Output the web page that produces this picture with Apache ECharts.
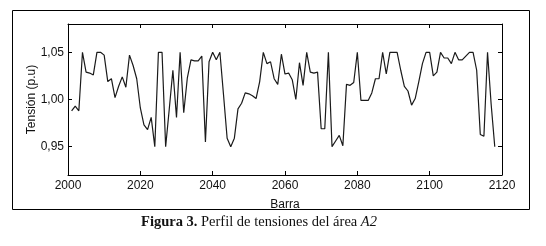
<!DOCTYPE html>
<html>
<head>
<meta charset="utf-8">
<script src="https://cdn.jsdelivr.net/npm/echarts@6/dist/echarts.min.js"></script>
<style>
  html, body { margin: 0; padding: 0; background: #fff; }
  #chart { width: 546px; height: 246px; }
</style>
</head>
<body>
<div id="chart"></div>
<script>
// bar numbers start at 2001, one value per bar
var firstBar = 2001;
var tension = [
  0.988, 0.993, 0.988, 1.050, 1.029, 1.028, 1.026, 1.050, 1.050, 1.047,
  1.019, 1.022, 1.002, 1.014, 1.024, 1.013, 1.047, 1.036, 1.022, 0.991,
  0.973, 0.968, 0.981, 0.950, 1.050, 1.050, 0.950, 0.990, 1.031, 0.981,
  1.050, 0.986, 1.023, 1.042, 1.041, 1.041, 1.046, 0.955, 1.040, 1.050,
  1.042, 1.050, 1.005, 0.959, 0.950, 0.959, 0.990, 0.996, 1.007, 1.006,
  1.004, 1.001, 1.019, 1.050, 1.038, 1.040, 1.022, 1.016, 1.048, 1.027,
  1.028, 1.021, 1.000, 1.039, 1.015, 1.050, 1.029, 1.028, 1.029, 0.969,
  0.969, 1.050, 0.950, 0.956, 0.962, 0.951, 1.016, 1.015, 1.018, 1.050,
  0.999, 0.999, 0.999, 1.007, 1.022, 1.022, 1.050, 1.027, 1.050, 1.050,
  1.050, 1.031, 1.014, 1.009, 0.994, 1.001, 1.019, 1.038, 1.050, 1.050,
  1.025, 1.029, 1.050, 1.044, 1.044, 1.038, 1.050, 1.042, 1.042, 1.046,
  1.050, 1.050, 1.031, 0.963, 0.961, 1.050, 0.995, 0.950
];
var yTicks = [0.95, 1.00, 1.05];

var points = tension.map(function (v, i) { return [firstBar + i, v]; });

var myChart = echarts.init(document.getElementById('chart'));

var font = 'Liberation Sans, Arial, sans-serif';
var xBase = {
    type: 'value',
    min: 2000,
    max: 2120,
    interval: 20,
    axisLine: { lineStyle: { color: '#000', width: 1 } },
    axisTick: { inside: true, length: 4, lineStyle: { color: '#000' } },
    splitLine: { show: false }
};
var yBase = {
    type: 'value',
    min: 0.92,
    max: 1.08,
    axisLine: { show: true, lineStyle: { color: '#000', width: 1 } },
    axisTick: { inside: true, length: 4, customValues: yTicks, lineStyle: { color: '#000' } },
    splitLine: { show: false }
};

option = {
    animation: false,
    grid: { left: 68, top: 24, right: 44, bottom: 71, containLabel: false },
    graphic: [
        {
            type: 'rect',
            shape: { x: 12.5, y: 10.5, width: 517, height: 199 },
            style: { fill: 'none', stroke: '#000', lineWidth: 1 }
        },
        {
            type: 'text',
            x: 259,
            y: 222,
            style: {
                text: '{b|Figura 3.} Perfil de tensiones del área {i|A2}',
                textAlign: 'center',
                textVerticalAlign: 'middle',
                font: '14.5px "Liberation Serif", serif',
                fill: '#111',
                rich: {
                    b: { fontWeight: 'bold', fontFamily: 'Liberation Serif', fontSize: 14.5 },
                    i: { fontStyle: 'italic', fontFamily: 'Liberation Serif', fontSize: 14.5 }
                }
            }
        }
    ],
    xAxis: [
        Object.assign({}, xBase, {
            position: 'bottom',
            name: 'Barra',
            nameLocation: 'middle',
            nameGap: 24,
            nameMoveOverlap: false,
            nameTextStyle: { color: '#111', fontSize: 12, fontFamily: font },
            axisLabel: {
                color: '#111', fontSize: 12, fontFamily: font, margin: 5,
                formatter: function (v) { return String(v); }
            }
        }),
        Object.assign({}, xBase, {
            position: 'top',
            axisLabel: { show: false }
        })
    ],
    yAxis: [
        Object.assign({}, yBase, {
            position: 'left',
            name: 'Tensión (p.u)',
            nameLocation: 'middle',
            nameGap: 30,
            nameMoveOverlap: false,
            nameTextStyle: { color: '#111', fontSize: 12, fontFamily: font },
            axisLabel: {
                color: '#111', fontSize: 12, fontFamily: font, margin: 4,
                customValues: yTicks,
                formatter: function (v) { return v.toFixed(2).replace('.', ','); }
            }
        }),
        Object.assign({}, yBase, {
            position: 'right',
            axisLabel: { show: false }
        })
    ],
    series: [
        {
            type: 'line',
            data: points,
            showSymbol: false,
            lineStyle: { color: '#1a1a1a', width: 1.2 }
        }
    ]
};
myChart.setOption(option);
</script>
</body>
</html>
